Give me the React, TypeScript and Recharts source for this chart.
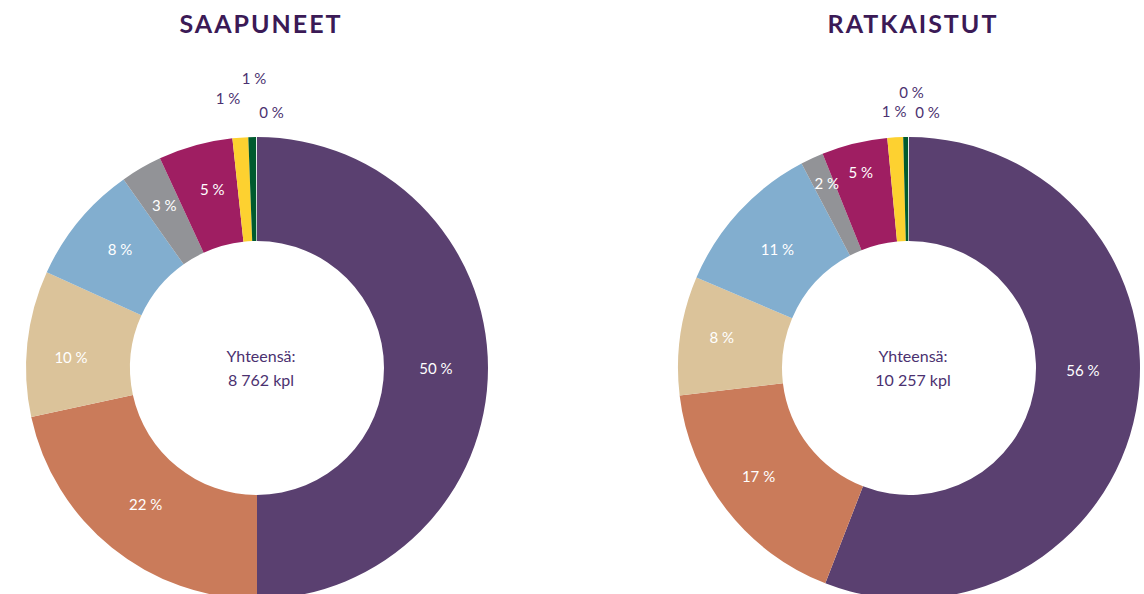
import { Cell, Pie, PieChart } from "recharts";

// categories in clockwise order starting from 12 o'clock
const categories = [
  "Luokka 1",
  "Luokka 2",
  "Luokka 3",
  "Luokka 4",
  "Luokka 5",
  "Luokka 6",
  "Luokka 7",
  "Luokka 8",
  "Luokka 9",
];

// shares in percent
const saapuneetValues = [50.0, 21.6, 10.2, 8.4, 2.9, 5.2, 1.1, 0.55, 0.05];
const ratkaistutValues = [55.9, 17.2, 8.3, 10.9, 1.6, 4.6, 1.1, 0.35, 0.05];

const titles = ["SAAPUNEET", "RATKAISTUT"];
const totals = ["8 762 kpl", "10 257 kpl"];
const totalLabel = "Yhteensä:";

const COLORS = [
  "#5a4070",
  "#ca7b5a",
  "#dbc39a",
  "#82aecf",
  "#929397",
  "#9f1e62",
  "#fdd130",
  "#005a2e",
  "#ffffff",
];

const FONT = "Lato, 'Open Sans', sans-serif";
const TEXT_DARK = "#3b1a56";
const TEXT_PURPLE = "#4b3170";

const W = 1144;
const H = 594;
const CY = 368;
const CX = [257, 909];
const INNER = 127;
const OUTER = 231;
const RAD = Math.PI / 180;
const OUTSIDE_FROM = 6; // slices from this index get their label outside the ring

// hand-moved label offsets (the source chart had labels dragged around)
const labelNudge = [
  [[0, 0], [1, -3], [-8, 8], [1, -5], [-3, -8], [3, -6], [-11, -22], [2, -41], [15, -7]],
  [[-2, -31], [-9, -2], [-10, -6], [0, 2], [-7, -23], [-6, -22], [0, -8], [6, -27], [19, -7]],
];

function makeLabel(chart: number) {
  return (props: any) => {
    const { cx, cy, midAngle, innerRadius, outerRadius, percent, index } = props;
    const pct = `${Math.round(percent * 100)} %`;
    const outside = index >= OUTSIDE_FROM;
    const r = outside ? outerRadius + 18 : (innerRadius + outerRadius) / 2;
    const [dx, dy] = labelNudge[chart][index];
    const x = cx + r * Math.cos(-midAngle * RAD) + dx;
    const y = cy + r * Math.sin(-midAngle * RAD) + dy;
    return (
      <text
        x={x}
        y={y}
        fill={outside ? TEXT_PURPLE : "#ffffff"}
        fontSize={15}
        fontFamily={FONT}
        textAnchor="middle"
        dominantBaseline="central"
      >
        {pct}
      </text>
    );
  };
}

export default function App() {
  const series = [saapuneetValues, ratkaistutValues].map((vals) =>
    vals.map((v, i) => ({ name: categories[i], value: v }))
  );
  return (
    <div style={{ position: "absolute", left: 0, top: 0, width: W, height: H, background: "#fff" }}>
      <PieChart width={W} height={H} margin={{ top: 0, right: 0, bottom: 0, left: 0 }}>
        {series.map((data, k) => (
          <Pie
            key={k}
            data={data}
            dataKey="value"
            nameKey="name"
            cx={CX[k]}
            cy={CY}
            innerRadius={INNER}
            outerRadius={OUTER}
            startAngle={90}
            endAngle={-270}
            stroke="none"
            label={makeLabel(k)}
            labelLine={false}
            isAnimationActive={false}
          >
            {data.map((_, i) => (
              <Cell key={i} fill={COLORS[i]} />
            ))}
          </Pie>
        ))}
      </PieChart>
      <svg
        width={W}
        height={H}
        style={{ position: "absolute", left: 0, top: 0, pointerEvents: "none" }}
      >
        {titles.map((t, k) => (
          <text
            key={t}
            x={CX[k] + 4}
            y={33}
            textAnchor="middle"
            fontFamily={FONT}
            fontWeight={700}
            fontSize={25}
            letterSpacing={2}
            fill={TEXT_DARK}
          >
            {t}
          </text>
        ))}
        {totals.map((t, k) => (
          <text
            key={t}
            x={CX[k] + 4}
            textAnchor="middle"
            fontFamily={FONT}
            fontSize={16}
            fill={TEXT_PURPLE}
          >
            <tspan x={CX[k] + 4} y={CY - 6}>
              {totalLabel}
            </tspan>
            <tspan x={CX[k] + 4} y={CY + 18}>
              {t}
            </tspan>
          </text>
        ))}
      </svg>
    </div>
  );
}
